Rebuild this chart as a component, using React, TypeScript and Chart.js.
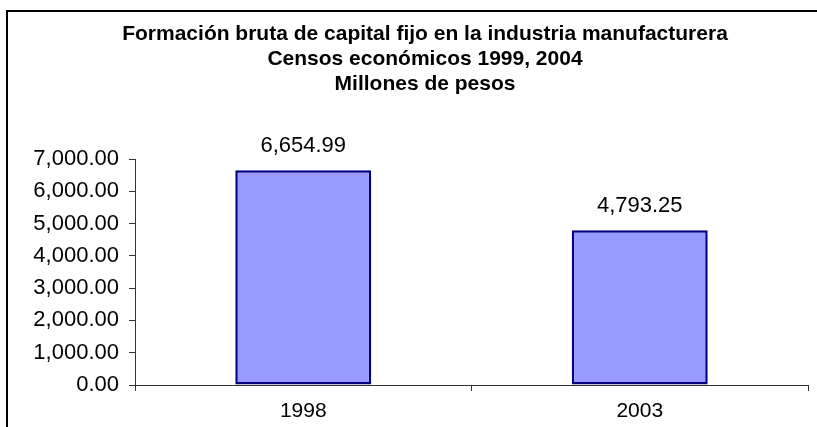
import React, { useEffect, useRef } from "react";
import { Chart, registerables } from "chart.js";

Chart.register(...registerables);

const titleLines = [
  "Formación bruta de capital fijo en la industria manufacturera",
  "Censos económicos 1999, 2004",
  "Millones de pesos",
];
const categories = ["1998", "2003"];
const values = [6654.99, 4793.25];
const yTicks = [0, 1000, 2000, 3000, 4000, 5000, 6000, 7000];

const FONT = "'Liberation Sans', Arial, Helvetica, sans-serif";

const fmt = (v: number) =>
  v.toLocaleString("en-US", { minimumFractionDigits: 2, maximumFractionDigits: 2 });

const framePlugin = {
  id: "frame",
  beforeDraw(chart: any) {
    const ctx = chart.ctx;
    ctx.save();
    ctx.fillStyle = "#ffffff";
    ctx.fillRect(0, 0, chart.width, chart.height);
    ctx.strokeStyle = "#000000";
    ctx.lineWidth = 2;
    ctx.strokeRect(7, 11, 2000, 2000);
    ctx.fillStyle = "#000000";
    ctx.font = `bold 21px ${FONT}`;
    ctx.textAlign = "center";
    ctx.textBaseline = "alphabetic";
    const baselines = [39.5, 64.5, 89.5];
    titleLines.forEach((t, i) => ctx.fillText(t, 425, baselines[i]));
    ctx.restore();
  },
  afterDatasetsDraw(chart: any) {
    const ctx = chart.ctx;
    const meta = chart.getDatasetMeta(0);
    ctx.save();
    ctx.fillStyle = "#000000";
    ctx.font = `22px ${FONT}`;
    ctx.textAlign = "center";
    ctx.textBaseline = "alphabetic";
    meta.data.forEach((bar: any, i: number) => {
      ctx.fillText(fmt(values[i]), bar.x, bar.y - 18);
    });
    ctx.restore();
  },
};

export default function App() {
  const ref = useRef<HTMLCanvasElement>(null);
  useEffect(() => {
    if (!ref.current) return;
    const chart = new Chart(ref.current, {
      type: "bar",
      data: {
        labels: categories,
        datasets: [
          {
            data: values,
            backgroundColor: "#9999FF",
            borderColor: "#000080",
            borderWidth: 2.5,
            borderSkipped: false,
            barPercentage: 0.404,
            categoryPercentage: 1,
          },
        ],
      },
      options: {
        responsive: false,
        animation: false,
        layout: { padding: { left: 7, right: 9, top: 159, bottom: 0 } },
        plugins: { legend: { display: false }, tooltip: { enabled: false }, title: { display: false } },
        scales: {
          x: {
            afterFit(scale: any) {
              scale.height = 42;
            },
            grid: {
              offset: true,
              drawOnChartArea: false,
              drawTicks: true,
              tickLength: 6,
              color: "#333333",
            },
            border: { display: true, color: "#333333", width: 1 },
            ticks: { color: "#000000", font: { family: FONT, size: 21 }, padding: 8 },
          },
          y: {
            min: 0,
            max: 7000,
            afterFit(scale: any) {
              scale.width = 128;
            },
            afterBuildTicks(scale: any) {
              scale.ticks = yTicks.map((v) => ({ value: v }));
            },
            grid: {
              drawOnChartArea: false,
              drawTicks: true,
              tickLength: 6,
              color: "#333333",
            },
            border: { display: true, color: "#333333", width: 1 },
            ticks: {
              color: "#000000",
              font: { family: FONT, size: 22 },
              padding: 10,
              callback: (v: any) => fmt(Number(v)),
            },
          },
        },
      },
      plugins: [framePlugin],
    });
    return () => chart.destroy();
  }, []);
  return (
    <div style={{ position: "absolute", left: 0, top: 0, width: 817, height: 427 }}>
      <canvas ref={ref} width={817} height={427} />
    </div>
  );
}
